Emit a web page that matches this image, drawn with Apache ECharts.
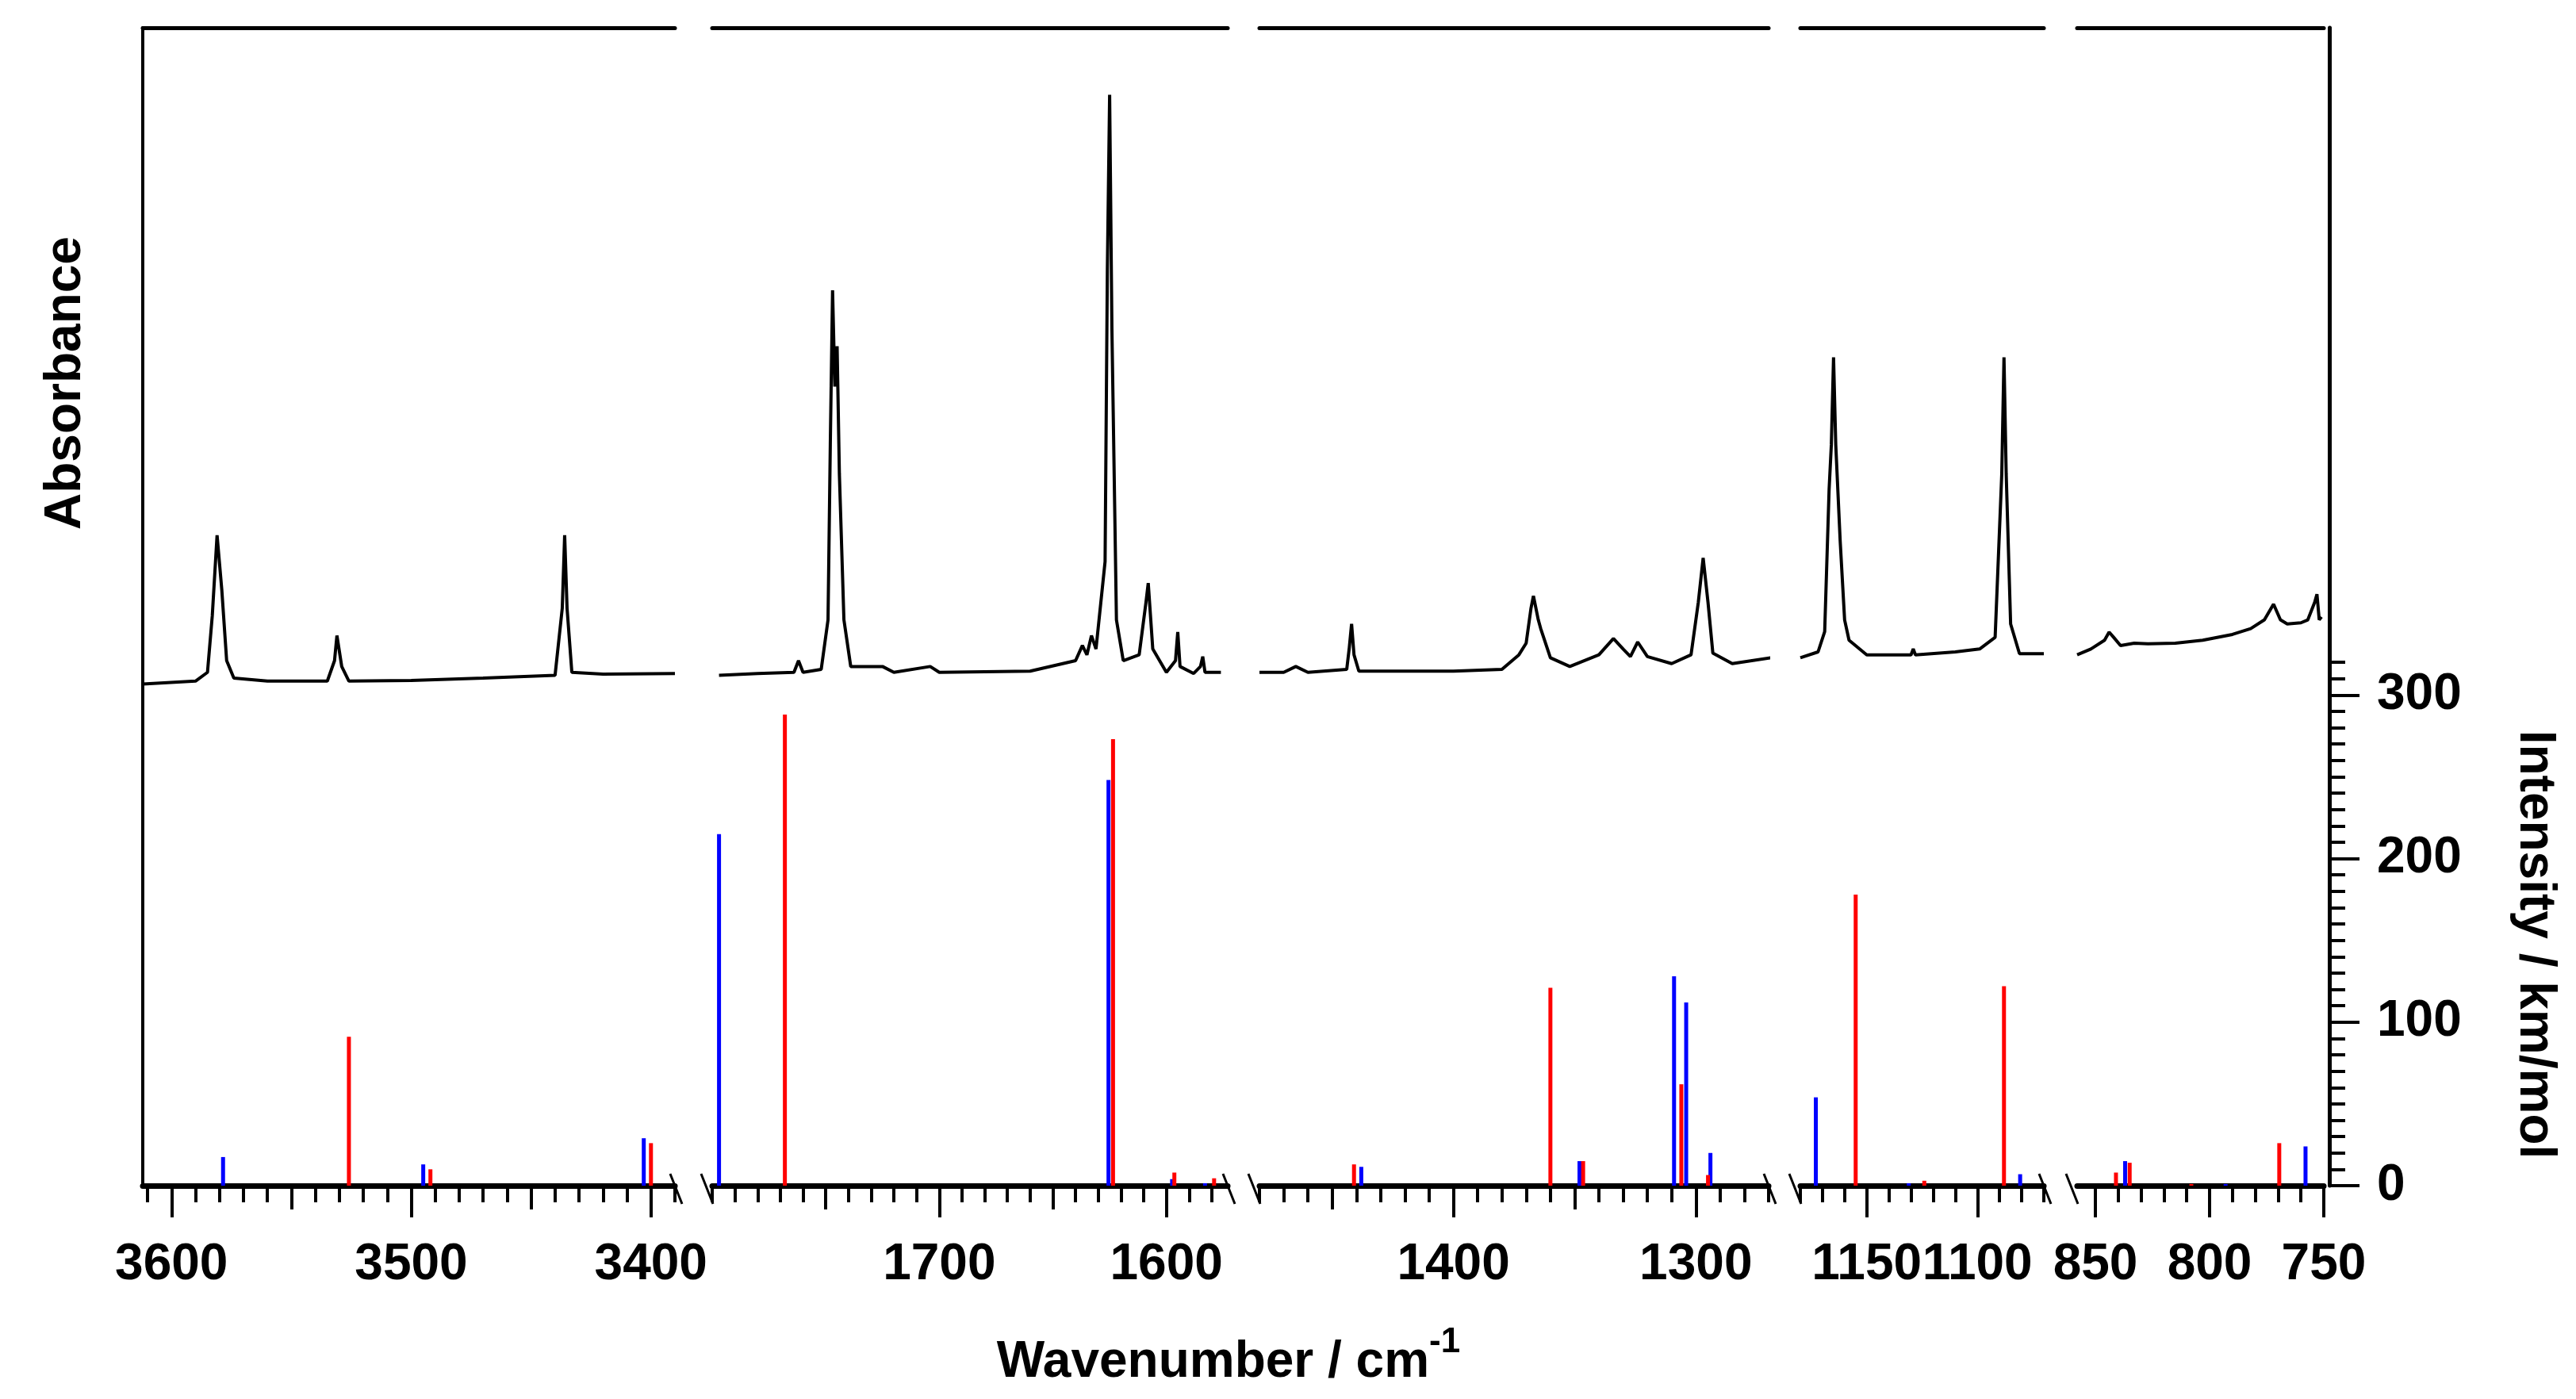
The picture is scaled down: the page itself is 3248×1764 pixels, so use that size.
<!DOCTYPE html>
<html style="height:100%;width:100%;">
<head>
  <meta charset="utf-8">
  <title>IR spectrum</title>
  <script src="https://cdn.jsdelivr.net/npm/echarts@6/dist/echarts.min.js"></script>
</head>
<body style="margin:0px;height:100%;width:100%;background:#fff;">
  <div id="main" style="width:100%;height:100%"></div>
  <script type="text/javascript">
    // axis ranges of the five broken segments (high -> low wavenumber)
    var segRanges = [[3612, 3390], [1800, 1573], [1480, 1270], [1180, 1070], [858, 750]];
    var segLabels = [[3600, 3500, 3400], [1700, 1600], [1400, 1300], [1150, 1100], [850, 800, 750]];
    var segMid = [[3550, 3450], [1750, 1650], [1450, 1350], [], []];
    var rightLabels = [0, 100, 200, 300];

    // experimental spectrum (wavenumber, absorbance arb.)
    var spec1 = [[3612, -0.01], [3590, -0.005], [3585, 0.01], [3583, 0.107], [3581, 0.245], [3579, 0.15], [3577, 0.03], [3574, 0.0],
      [3560, -0.005], [3535, -0.005], [3532, 0.03], [3531, 0.073], [3529, 0.02], [3526, -0.005], [3500, -0.004], [3470, 0.0],
      [3440, 0.005], [3437, 0.12], [3436, 0.245], [3435, 0.12], [3433, 0.01], [3420, 0.007], [3390, 0.008]];
    var spec2 = [[1797, 0.005], [1780, 0.008], [1764, 0.01], [1762, 0.03], [1760, 0.01], [1752, 0.015], [1749, 0.1], [1748, 0.4],
      [1747, 0.665], [1746, 0.5], [1745, 0.569], [1744, 0.35], [1742, 0.1], [1739, 0.02], [1725, 0.02], [1720, 0.01],
      [1704, 0.02], [1700, 0.01], [1660, 0.012], [1640, 0.03], [1637, 0.056], [1635, 0.04], [1633, 0.073], [1631, 0.05],
      [1627, 0.2], [1626, 0.7], [1625, 1.0], [1624, 0.6], [1622, 0.1], [1619, 0.03], [1612, 0.04], [1609, 0.13], [1608, 0.163],
      [1606, 0.05], [1600, 0.01], [1596, 0.03], [1595, 0.079], [1594, 0.02], [1588, 0.008], [1585, 0.02], [1584, 0.037],
      [1583, 0.01], [1576, 0.01]];
    var spec3 = [[1480, 0.01], [1470, 0.01], [1465, 0.02], [1460, 0.01], [1444, 0.015], [1443, 0.05], [1442, 0.093], [1441, 0.04],
      [1439, 0.012], [1400, 0.012], [1380, 0.015], [1373, 0.04], [1370, 0.06], [1368, 0.12], [1367, 0.141], [1365, 0.1],
      [1364, 0.085], [1360, 0.035], [1352, 0.02], [1340, 0.04], [1334, 0.068], [1330, 0.05], [1327, 0.037], [1324, 0.062],
      [1320, 0.037], [1310, 0.025], [1302, 0.04], [1299, 0.13], [1297, 0.206], [1295, 0.13], [1293, 0.043], [1285, 0.025],
      [1266, 0.037]];
    var spec4 = [[1180, 0.035], [1172, 0.045], [1169, 0.08], [1167, 0.324], [1166, 0.4], [1165, 0.55], [1164, 0.4], [1162, 0.235],
      [1160, 0.1], [1158, 0.065], [1150, 0.04], [1130, 0.04], [1129, 0.05], [1128, 0.04], [1110, 0.045], [1099, 0.05],
      [1092, 0.07], [1089, 0.35], [1088, 0.55], [1087, 0.35], [1085, 0.093], [1081, 0.042], [1070, 0.042]];
    var spec5 = [[858, 0.04], [852, 0.05], [846, 0.065], [844, 0.079], [842, 0.07], [839, 0.056], [833, 0.06], [827, 0.059],
      [815, 0.06], [803, 0.065], [790, 0.075], [782, 0.085], [776, 0.1], [772, 0.127], [769, 0.1], [766, 0.093], [760, 0.095],
      [757, 0.1], [754, 0.13], [753, 0.144], [752, 0.1], [751, 0.105]];

    // calculated intensities (wavenumber, km/mol)
    var red1 = [[3526, 91], [3492, 10], [3400, 26]];
    var blue1 = [[3578.5, 17.5], [3495, 13], [3403, 29]];
    var red2 = [[1768, 288], [1623.5, 273], [1596.5, 8], [1579, 4.5]];
    var blue2 = [[1797, 215], [1625.5, 248], [1597.5, 4], [1583, 1.5]];
    var red3 = [[1441, 13], [1360, 121], [1346.5, 15], [1306, 62], [1295, 6.5]];
    var blue3 = [[1438, 11.5], [1348, 15], [1309, 128], [1304, 112], [1294, 20]];
    var red4 = [[1155, 178], [1124, 3], [1088, 122]];
    var blue4 = [[1173, 54], [1131, 1.5], [1080.7, 7]];
    var red5 = [[841, 8], [835, 14], [808, 1], [769.5, 26]];
    var blue5 = [[837, 15], [793, 1], [758, 24]];

    var specs = [spec1, spec2, spec3, spec4, spec5];
    var reds = [red1, red2, red3, red4, red5];
    var blues = [blue1, blue2, blue3, blue4, blue5];

    var gridLeft = [180, 898, 1588, 2270, 2619];
    var gridWidth = [671, 650, 642, 307, 311];
    var gridTop = 35, gridBottom = 269;

    function range(a, b, step) {
      var out = [];
      for (var v = a; v <= b + 1e-9; v += step) out.push(v);
      return out;
    }

    var grids = [], xAxes = [], yAxes = [], series = [], graphics = [];
    var FONT = 'Liberation Sans';

    segRanges.forEach(function (r, i) {
      var lo = r[1], hi = r[0];
      grids.push({ left: gridLeft[i], width: gridWidth[i], top: gridTop, bottom: gridBottom });
      var minor = range(Math.ceil(lo / 10) * 10, Math.floor(hi / 10) * 10, 10);
      var base = { type: 'value', gridIndex: i, min: lo, max: hi, inverse: true, position: 'bottom',
        splitLine: { show: false }, axisLine: { show: false, onZero: false }, axisLabel: { show: false }, axisTick: { show: false } };
      var xMain = xAxes.length;
      // main axis: line + labels + long ticks
      xAxes.push(Object.assign({}, base, {
        axisLine: { show: true, onZero: false, lineStyle: { color: '#000', width: 7 } },
        axisTick: { show: true, length: 40, customValues: segLabels[i], lineStyle: { color: '#000', width: 4 } },
        axisLabel: { show: true, customValues: segLabels[i], margin: 68, color: '#000', fontFamily: FONT,
          fontWeight: 'bold', fontSize: 64, formatter: function (v) { return String(v); } }
      }));
      xAxes.push(Object.assign({}, base, {
        axisTick: { show: true, length: 21, customValues: minor, lineStyle: { color: '#000', width: 4 } }
      }));
      if (segMid[i].length) {
        xAxes.push(Object.assign({}, base, {
          axisTick: { show: true, length: 30, customValues: segMid[i], lineStyle: { color: '#000', width: 4 } }
        }));
      }
      // top frame piece
      xAxes.push(Object.assign({}, base, { position: 'top',
        axisLine: { show: true, onZero: false, lineStyle: { color: '#000', width: 5 } } }));

      var yAbs = yAxes.length;
      yAxes.push({ type: 'value', gridIndex: i, min: -0.87, max: 1.115, show: i === 0, position: 'left',
        axisLine: { show: i === 0, onZero: false, lineStyle: { color: '#000', width: 4 } },
        axisTick: { show: false }, axisLabel: { show: false }, splitLine: { show: false } });
      var yInt = yAxes.length;
      var isLast = i === segRanges.length - 1;
      yAxes.push({ type: 'value', gridIndex: i, min: 0, max: 708, show: isLast, position: 'right', offset: 7,
        axisLine: { show: isLast, onZero: false, lineStyle: { color: '#000', width: 5 } },
        axisTick: { show: isLast, length: 38, customValues: rightLabels, lineStyle: { color: '#000', width: 4 } },
        axisLabel: { show: isLast, customValues: rightLabels, margin: 60, color: '#000', fontFamily: FONT,
          fontWeight: 'bold', fontSize: 64 },
        splitLine: { show: false } });
      if (isLast) {
        yAxes.push({ type: 'value', gridIndex: i, min: 0, max: 708, position: 'right', offset: 7,
          axisLine: { show: false, onZero: false }, axisLabel: { show: false }, splitLine: { show: false },
          axisTick: { show: true, length: 20, customValues: range(0, 320, 10), lineStyle: { color: '#000', width: 4 } } });
      }

      series.push({ type: 'line', xAxisIndex: xMain, yAxisIndex: yAbs, data: specs[i], showSymbol: false,
        lineStyle: { color: '#000', width: 4 }, silent: true, animation: false, z: 3 });
      series.push({ type: 'bar', xAxisIndex: xMain, yAxisIndex: yInt, data: blues[i], barWidth: 5, barGap: '-100%',
        itemStyle: { color: '#0000ff' }, animation: false });
      series.push({ type: 'bar', xAxisIndex: xMain, yAxisIndex: yInt, data: reds[i], barWidth: 5, barGap: '-100%',
        itemStyle: { color: '#ff0000' }, animation: false });

      // axis-break marks
      var y0 = 1764 - gridBottom - 15, y1 = 1764 - gridBottom + 23;
      var L = gridLeft[i], R = gridLeft[i] + gridWidth[i];
      if (i > 0) graphics.push({ type: 'line', shape: { x1: L - 14, y1: y0, x2: L + 1, y2: y1 }, style: { stroke: '#000', lineWidth: 3 } });
      if (i < segRanges.length - 1) graphics.push({ type: 'line', shape: { x1: R - 6, y1: y0, x2: R + 9, y2: y1 }, style: { stroke: '#000', lineWidth: 3 } });
    });

    graphics.push({ type: 'text', x: 83, y: 483, rotation: Math.PI / 2,
      style: { text: 'Absorbance', font: 'bold 64px "Liberation Sans"', fill: '#000', align: 'center', verticalAlign: 'middle' } });
    graphics.push({ type: 'text', x: 3196, y: 1191, rotation: -Math.PI / 2,
      style: { text: 'Intensity / km/mol', font: 'bold 64px "Liberation Sans"', fill: '#000', align: 'center', verticalAlign: 'middle' } });
    graphics.push({ type: 'text', x: 1549, y: 1718,
      style: { text: '{a|Wavenumber / cm}{b|-1}', fill: '#000', align: 'center', verticalAlign: 'middle',
        rich: { a: { fontFamily: FONT, fontWeight: 'bold', fontSize: 64 },
                b: { fontFamily: FONT, fontWeight: 'bold', fontSize: 44, verticalAlign: 'top', padding: [0, 0, 50, 0] } } } });

    var myChart = echarts.init(document.getElementById('main'));
    myChart.setOption({
      backgroundColor: '#fff',
      animation: false,
      grid: grids,
      xAxis: xAxes,
      yAxis: yAxes,
      series: series,
      graphic: graphics
    });
  </script>
</body>
</html>
